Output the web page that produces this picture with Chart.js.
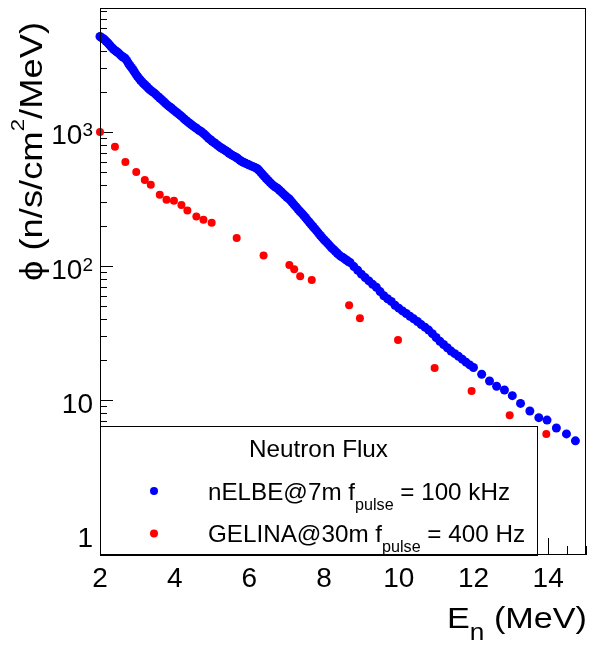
<!DOCTYPE html>
<html><head><meta charset="utf-8">
<style>html,body{margin:0;padding:0;background:#fff;}canvas{display:block;}</style>
<script src="https://cdn.jsdelivr.net/npm/chart.js@4/dist/chart.umd.min.js"></script>
</head><body>
<canvas id="c" width="590" height="645"></canvas>
<script>
// ---- data ----
const nelbeEnergy = [2.00,2.04,2.08,2.12,2.16,2.20,2.24,2.28,2.32,2.36,2.40,2.44,2.48,2.52,2.56,2.60,2.64,2.68,2.72,2.76,2.80,2.84,2.88,2.92,2.96,3.00,3.04,3.08,3.12,3.16,3.20,3.25,3.30,3.35,3.40,3.45,3.50,3.55,3.60,3.65,3.70,3.75,3.80,3.85,3.90,3.95,4.00,4.05,4.10,4.15,4.20,4.25,4.30,4.35,4.40,4.45,4.50,4.55,4.60,4.65,4.70,4.75,4.80,4.85,4.90,4.95,5.00,5.05,5.10,5.15,5.20,5.25,5.30,5.35,5.40,5.45,5.50,5.55,5.60,5.65,5.70,5.75,5.80,5.85,5.90,5.95,6.00,6.05,6.10,6.15,6.20,6.25,6.30,6.35,6.40,6.45,6.50,6.55,6.60,6.65,6.70,6.75,6.80,6.85,6.90,6.95,7.00,7.05,7.10,7.15,7.20,7.25,7.30,7.35,7.40,7.45,7.50,7.55,7.60,7.65,7.70,7.75,7.80,7.85,7.90,7.95,8.00,8.05,8.10,8.15,8.20,8.25,8.30,8.35,8.40,8.45,8.50,8.55,8.60,8.65,8.70,8.80,8.90,9.00,9.10,9.20,9.30,9.40,9.50,9.60,9.70,9.80,9.90,10.0,10.1,10.2,10.3,10.4,10.5,10.6,10.7,10.8,10.9,11.0,11.1,11.2,11.3,11.4,11.5,11.6,11.7,11.8,11.9,12.0,12.22,12.43,12.62,12.83,13.04,13.26,13.51,13.75,13.97,14.22,14.49,14.73];
const nelbeFlux = [5150,5050,4980,4880,4760,4640,4520,4380,4250,4150,4060,3980,3900,3820,3720,3640,3590,3520,3400,3250,3130,3030,2920,2810,2700,2600,2520,2440,2370,2300,2250,2180,2110,2050,2000,1955,1900,1840,1790,1740,1690,1640,1590,1550,1515,1475,1435,1400,1365,1330,1295,1255,1220,1190,1160,1132,1105,1080,1055,1030,1010,985,960,930,900,878,855,835,815,795,775,759,745,730,715,697,682,668,657,645,630,615,602,592,583,575,566,558,551,544,534,520,502,484,466,450,435,421,408,396,388,380,369,358,347,337,327,319,309,297,286,276,266,256,248,239,230,221,213,205,197,190,183,176,169,163,157,152,147,142,137,133,129,125,121,118,116,113,111,108,106,99,93,87,82,77.5,73,69.5,64.5,60,57,54.5,51,48.5,46.3,44.3,42.2,40.4,38.6,36.6,35,33.3,31.3,29.3,27.5,26,24.6,23.2,22.2,21.2,20.2,19.2,18.3,17.5,15.6,13.9,12.7,11.9,10.8,9.45,8.3,7.4,7.1,6.2,5.6,4.97];
const gelinaEnergy = [2.0,2.4,2.68,2.97,3.2,3.36,3.6,3.78,3.98,4.18,4.34,4.58,4.77,4.99,5.66,6.38,7.07,7.2,7.36,7.67,8.67,8.96,9.98,10.96,11.95,12.97,13.95];
const gelinaFlux = [1000,776,597,502,438,404,340,312,307,285,260,234,221,210,161.5,119.7,102,94.7,84,78.8,51,40.8,28.1,17.4,11.7,7.73,5.6];

const xTickValues = [2,4,6,8,10,12,14];
const xTickLabels = ['2','4','6','8','10','12','14'];
const yTickValues = [1,10,100,1000];
const yTickBase = ['1','10','10','10'];
const yTickExp = ['','','2','3'];

const seriesNames = ['nELBE@7m f', 'GELINA@30m f'];
const seriesRest = [' = 100 kHz', ' = 400 Hz'];
const legendTitle = 'Neutron Flux';

const FONT = '"Liberation Sans", Arial, Helvetica, sans-serif';
const BLUE = 'rgb(0,0,255)', RED = 'rgb(255,0,0)';

function toPts(xs, ys){ return xs.map((x,i)=>({x:x, y:ys[i]})); }

function drawRich(ctx, parts, x, y, align, target){
  let widths = parts.map(p=>{ ctx.font = p.size+'px '+FONT; return ctx.measureText(p.text).width; });
  let total = widths.reduce((a,b)=>a+b,0);
  let sx = target ? target/total : 1;
  let start = align==='right' ? x - total*sx : align==='center' ? x - total*sx/2 : x;
  ctx.save();
  ctx.translate(start, y);
  ctx.scale(sx,1);
  let cx = 0;
  parts.forEach((p,i)=>{
    ctx.font = p.size+'px '+FONT;
    ctx.textAlign='left'; ctx.textBaseline='alphabetic';
    ctx.fillText(p.text, cx, p.dy||0);
    cx += widths[i];
  });
  ctx.restore();
}

const rootAxes = {
  id:'rootAxes',
  beforeDatasetsDraw(chart){
    const ctx = chart.ctx, a = chart.chartArea, xs = chart.scales.x, ys = chart.scales.y;
    ctx.save();
    ctx.strokeStyle='#000'; ctx.lineWidth=1;
    for(let v=2; v<=15.001; v+=0.5){
      const px = Math.round(xs.getPixelForValue(v))+0.5;
      const major = xTickValues.includes(v);
      const len = major?17:9;
      ctx.beginPath(); ctx.moveTo(px, a.bottom); ctx.lineTo(px, a.bottom-len); ctx.stroke();
    }
    for(let e=-1; e<=3; e++){
      for(let k=1;k<=9;k++){
        const v = k*Math.pow(10,e);
        if(v<ys.min||v>ys.max) continue;
        const py = Math.round(ys.getPixelForValue(v))+0.5;
        const len = k===1?13:7;
        ctx.beginPath(); ctx.moveTo(a.left, py); ctx.lineTo(a.left+len, py); ctx.stroke();
      }
    }
    ctx.restore();
  },
  afterDatasetsDraw(chart){
    const ctx = chart.ctx, a = chart.chartArea, xs = chart.scales.x, ys = chart.scales.y;
    ctx.save();
    const lb = {l:a.left, t:426, r:537, b:a.bottom};
    ctx.fillStyle='#fff';
    ctx.fillRect(lb.l, lb.t, lb.r-lb.l, lb.b-lb.t);
    ctx.strokeStyle='#000'; ctx.lineWidth=1;
    ctx.strokeRect(lb.l+0.5, lb.t+0.5, lb.r-lb.l, lb.b-lb.t);
    ctx.strokeRect(Math.round(a.left)+0.5, Math.round(a.top)+0.5, Math.round(a.right-a.left)-1, Math.round(a.bottom-a.top)-1);
    ctx.fillStyle='#000';
    drawRich(ctx, [{text:legendTitle,size:24}], (lb.l+lb.r)/2, 457, 'center', 139);
    const colors=[BLUE,RED];
    const rows=[{my:491, base:500, w:302},{my:533.5, base:542, w:317}];
    rows.forEach((r,i)=>{
      ctx.fillStyle=colors[i];
      ctx.beginPath(); ctx.arc(154, r.my, 4, 0, Math.PI*2); ctx.fill();
      ctx.fillStyle='#000';
      drawRich(ctx, [{text:seriesNames[i],size:24},{text:'pulse',size:16,dy:10},{text:seriesRest[i],size:24}], 208, r.base, 'left', r.w);
    });
    ctx.fillStyle='#000';
    xTickValues.forEach((v,i)=>{
      ctx.font='28px '+FONT; ctx.textAlign='center'; ctx.textBaseline='alphabetic';
      ctx.fillText(xTickLabels[i], xs.getPixelForValue(v), 587);
    });
    yTickValues.forEach((v,i)=>{
      const py = ys.getPixelForValue(v);
      const parts=[{text:yTickBase[i],size:28}];
      if(yTickExp[i]) parts.push({text:yTickExp[i],size:19,dy:-8});
      drawRich(ctx, parts, 93, py+12.5, 'right');
    });
    drawRich(ctx, [{text:'E',size:30},{text:'n',size:23,dy:12},{text:' (MeV)',size:30}], 587, 628, 'right', 140);
    ctx.save();
    ctx.translate(42, 281);
    ctx.rotate(-Math.PI/2);
    drawRich(ctx, [{text:'\u03D5 (n/s/cm',size:31},{text:'2',size:19,dy:-18},{text:'/MeV)',size:31}], 0, 0, 'left', 259);
    ctx.restore();
    ctx.restore();
  }
};

new Chart(document.getElementById('c'), {
  type:'scatter',
  data:{datasets:[
    {label:'GELINA@30m', data:toPts(gelinaEnergy, gelinaFlux), backgroundColor:RED, borderWidth:0, pointRadius:4, pointHoverRadius:4, showLine:false, clip:false},
    {label:'nELBE@7m', data:toPts(nelbeEnergy, nelbeFlux), backgroundColor:BLUE, borderWidth:0, pointRadius:4.5, pointHoverRadius:4.5, showLine:false, clip:false}
  ]},
  options:{
    responsive:false, animation:false, devicePixelRatio:1,
    layout:{padding:{top:8,right:3,left:0,bottom:0}},
    plugins:{legend:{display:false}, tooltip:{enabled:false}},
    scales:{
      x:{type:'linear', min:2, max:15, ticks:{display:false}, grid:{display:false}, border:{display:false}, afterFit(s){s.height=90;}},
      y:{type:'logarithmic', min:0.7, max:8400, ticks:{display:false}, grid:{display:false}, border:{display:false}, afterFit(s){s.width=100;}}
    }
  },
  plugins:[rootAxes]
});
</script>
</body></html>
